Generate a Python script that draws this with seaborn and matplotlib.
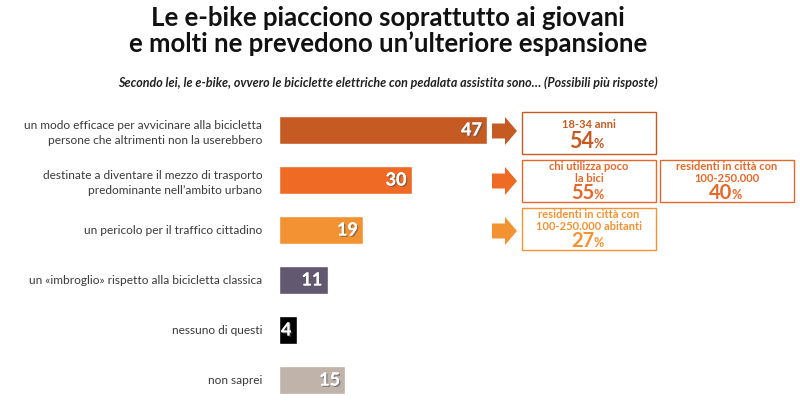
import matplotlib
matplotlib.use("Agg")
import matplotlib.pyplot as plt
import matplotlib.patheffects as pe
from matplotlib.patches import Polygon, Rectangle
from matplotlib.transforms import Affine2D
import seaborn as sns
import pandas as pd

# ---------------- data ----------------
categories = [
    "un modo efficace per avvicinare alla bicicletta\npersone che altrimenti non la userebbero",
    "destinate a diventare il mezzo di trasporto\npredominante nell\u2019ambito urbano",
    "un pericolo per il traffico cittadino",
    "un \u00abimbroglio\u00bb rispetto alla bicicletta classica",
    "nessuno di questi",
    "non saprei",
]
values = [47, 30, 19, 11, 4, 15]
bar_colors = ["#C55A22", "#EE6A25", "#F29233", "#625870", "#000000", "#BFB3AA"]

# call-out boxes: (row, column, label, percent)
box_rows = [0, 1, 1, 2]
box_cols = [0, 0, 1, 0]
box_labels = ["18-34 anni", "chi utilizza poco\nla bici",
              "residenti in citt\u00e0 con\n100-250.000",
              "residenti in citt\u00e0 con\n100-250.000 abitanti"]
box_values = [54, 55, 40, 27]

title = "Le e-bike piacciono soprattutto ai giovani\ne molti ne prevedono un\u2019ulteriore espansione"
subtitle = "Secondo lei, le e-bike, ovvero le biciclette elettriche con pedalata assistita sono\u2026 (Possibili pi\u00f9 risposte)"

# ---------------- figure ----------------
W, H = 800, 403
sns.set_theme(style="white")
plt.rcParams["font.family"] = ["Lato", "DejaVu Sans"]

fig = plt.figure(figsize=(W / 100, H / 100), dpi=100)
px = Affine2D().scale(1 / W, -1 / H).translate(0, 1) + fig.transFigure  # pixel coords, y down

scale = 4.43  # px per unit
ax_left, ax_top, ax_bot = 279, 105, 403
ax = fig.add_axes([ax_left / W, 1 - ax_bot / H, (W - ax_left) / W, (ax_bot - ax_top) / H])

df = pd.DataFrame({"cat": categories, "val": values})
sns.barplot(data=df, x="val", y="cat", hue="cat", palette=bar_colors, legend=False,
            ax=ax, orient="h", width=0.55, saturation=1)
ax.set_xlim(0, (W - ax_left) / scale)
ax.set_ylim(5.46, -0.5)
ax.set_xlabel("")
ax.set_ylabel("")
ax.set_xticks([])
ax.tick_params(axis="y", length=0, pad=12)
ax.set_yticks(range(len(categories)))
ax.set_yticklabels(categories, fontsize=8.6, color="#3A3A3A", linespacing=1.45)
for s in ax.spines.values():
    s.set_visible(False)

shadow = [pe.withSimplePatchShadow(offset=(1, -1), shadow_rgbFace="#555555", alpha=0.6), pe.Normal()]
for i, v in enumerate(values):
    ax.text(v - 1.2, i, str(v), ha="right", va="center", color="white",
            fontsize=13, fontweight="bold", path_effects=shadow)

# arrows for first three rows
arrow_colors = bar_colors[:3]
for r in range(3):
    cy = 131 + 50 * r
    pts = [(492, cy - 7.5), (505, cy - 7.5), (505, cy - 14), (517, cy),
           (505, cy + 14), (505, cy + 7.5), (492, cy + 7.5)]
    fig.patches.append(Polygon(pts, closed=True, transform=px, color=arrow_colors[r], lw=0))

# boxes
box_x = [522, 660]
box_w = 134
box_y0 = [112, 160, 208]
box_h = 42
text_colors = ["#C55A22", "#E4692A", "#F29233"]
for r, c, lab, val in zip(box_rows, box_cols, box_labels, box_values):
    x0 = box_x[c]
    y0 = box_y0[r]
    col = text_colors[r]
    fig.patches.append(Rectangle((x0, y0), box_w, box_h, transform=px, fill=False,
                                 edgecolor=col, lw=1.0))
    cx = x0 + box_w / 2
    lines = lab.split("\n")
    if len(lines) == 1:
        line_y = [y0 + 12]
        ny = y0 + 30
        nsize = 15.5
    else:
        line_y = [y0 + 7, y0 + 18]
        ny = y0 + 33
        nsize = 14.5
    for ly, t in zip(line_y, lines):
        fig.text(cx, ly, t, transform=px, ha="center", va="center",
                 color=col, fontsize=8, fontweight="bold")
    fig.text(cx + 5, ny, str(val), transform=px, ha="right", va="center",
             color=col, fontsize=nsize, fontweight="bold")
    fig.text(cx + 5, ny + 2, "%", transform=px, ha="left", va="center",
             color=col, fontsize=9, fontweight="bold")

# titles
fig.text(388 / W, 1 - 31 / H, title, ha="center", va="center", fontsize=18.5,
         fontweight="bold", color="#111111", linespacing=1.1)
fig.text(388 / W, 1 - 83 / H, subtitle, ha="center", va="center", fontsize=9,
         fontweight="bold", style="italic", color="#222222")

fig.savefig("out.png", dpi=100)
